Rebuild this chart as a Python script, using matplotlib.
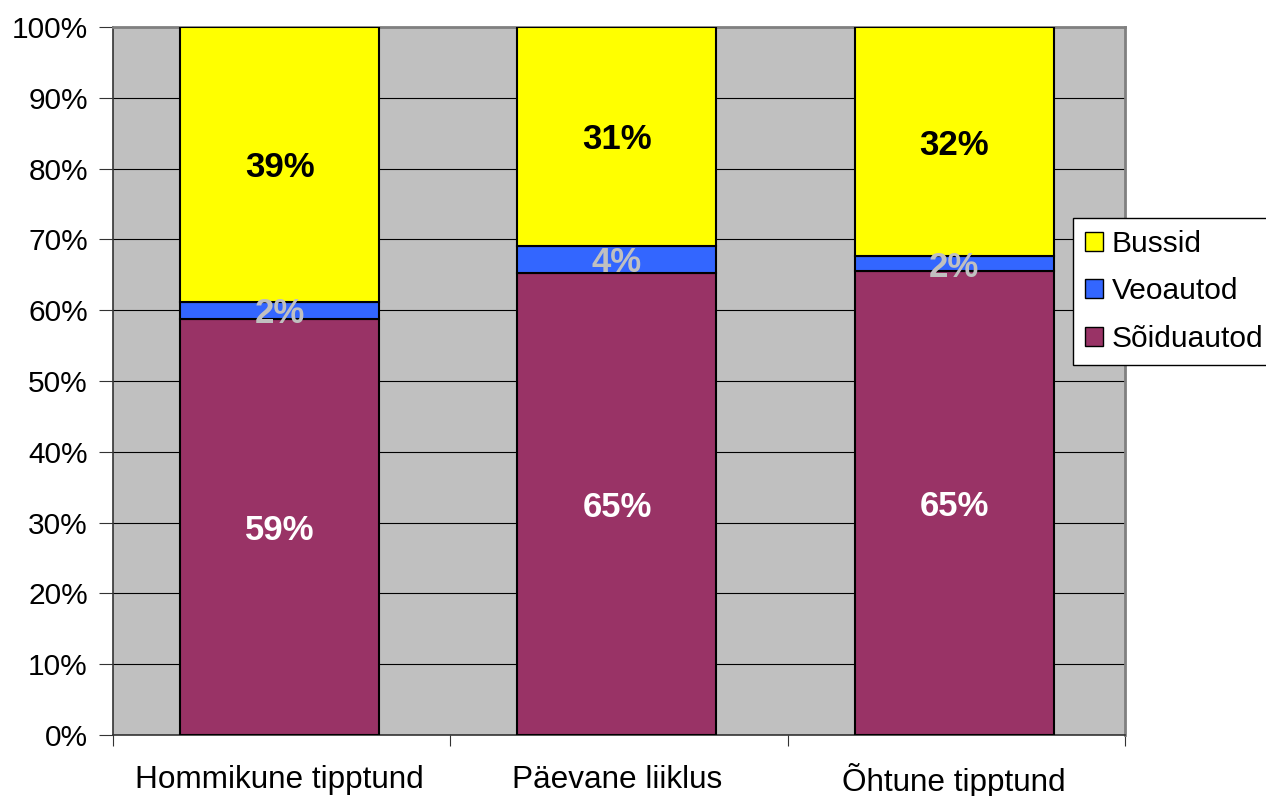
import matplotlib
matplotlib.use("Agg")
import matplotlib.pyplot as plt
import numpy as np
from matplotlib.patches import Patch
import matplotlib.transforms as mtransforms

categories = ["Hommikune tipptund", "Päevane liiklus", "Õhtune tipptund"]
soiduautod = [58.8, 65.3, 65.5]
veoautod = [2.4, 3.8, 2.1]
bussid = [38.8, 30.9, 32.4]
lbl_soidu = ["59%", "65%", "65%"]
lbl_veo = ["2%", "4%", "2%"]
lbl_buss = ["39%", "31%", "32%"]
yticks = list(range(0, 101, 10))

plt.rcParams['font.family'] = ['Liberation Sans', 'DejaVu Sans']

fig = plt.figure(figsize=(12.66, 7.96), dpi=100)
ax = fig.add_axes([113/1266, 61/796, 1012/1266, 708/796])
ax.set_facecolor('#c0c0c0')

x = np.arange(len(categories))
w = 0.59
c_s, c_v, c_b = '#993366', '#3366ff', '#ffff00'
ax.bar(x, soiduautod, w, color=c_s, edgecolor='black', linewidth=1.5, zorder=3)
ax.bar(x, veoautod, w, bottom=soiduautod, color=c_v, edgecolor='black', linewidth=1.5, zorder=3)
bot2 = np.array(soiduautod) + np.array(veoautod)
ax.bar(x, bussid, w, bottom=bot2, color=c_b, edgecolor='black', linewidth=1.5, zorder=3)

fs = 21.5
lfs = 25
for i in range(len(categories)):
    ax.text(x[i], soiduautod[i]/2, lbl_soidu[i], ha='center', va='center_baseline', color='white',
            fontweight='bold', fontsize=lfs, zorder=4)
    ax.text(x[i], soiduautod[i] + veoautod[i]/2, lbl_veo[i], ha='center', va='center_baseline', color='#c0c0c0',
            fontweight='bold', fontsize=lfs, zorder=4)
    ax.text(x[i], bot2[i] + bussid[i]/2, lbl_buss[i], ha='center', va='center_baseline', color='black',
            fontweight='bold', fontsize=lfs, zorder=4)

ax.set_xlim(-0.494, 2.506)
ax.set_ylim(0, 100)
ax.set_yticks(yticks)
ax.set_yticklabels([f"{t}%" for t in yticks], fontsize=fs)
ax.yaxis.grid(True, color='black', linewidth=0.8, zorder=1)
ax.set_axisbelow(True)
ax.set_xticks([-0.494, 0.506, 1.506, 2.506])
ax.set_xticklabels([])
trans = mtransforms.blended_transform_factory(ax.transData, ax.transAxes)
for i, c in enumerate(categories):
    ax.text(x[i], -0.0593, c, transform=trans, ha='center', va='center_baseline', fontsize=22.7)
ax.tick_params(axis='x', which='major', length=8, direction='out', color='#333333')
ax.tick_params(axis='y', length=10, direction='out', color='#333333', pad=8)
for s in ['top', 'right']:
    ax.spines[s].set_color('#808080')
    ax.spines[s].set_linewidth(2)
ax.spines['left'].set_color('#333333')
ax.spines['bottom'].set_color('#333333')
ax.spines['left'].set_linewidth(1.2)
ax.spines['bottom'].set_linewidth(1.2)

handles = [Patch(facecolor=c_b, edgecolor='black', label='Bussid'),
           Patch(facecolor=c_v, edgecolor='black', label='Veoautod'),
           Patch(facecolor=c_s, edgecolor='black', label='Sõiduautod')]
leg = fig.legend(handles=handles, loc='upper left', bbox_to_anchor=(1073/1266, 1-218/796),
                 fontsize=21.5, frameon=True, fancybox=False, handlelength=0.6, handleheight=0.6,
                 handletextpad=0.3, borderpad=0.4, labelspacing=0.65, borderaxespad=0)
leg.get_frame().set_edgecolor('black')
leg.get_frame().set_linewidth(1.0)
leg.get_frame().set_alpha(1)

fig.savefig('out.png', dpi=100)
